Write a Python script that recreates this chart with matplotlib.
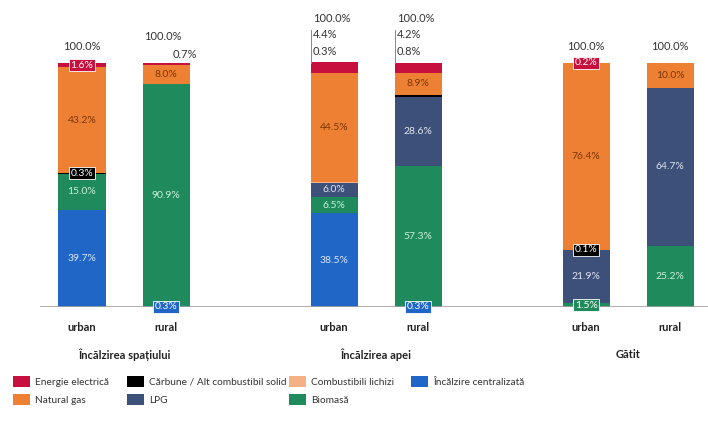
import matplotlib.pyplot as plt
import numpy as np
from matplotlib.patches import Patch

plt.rcParams['font.family'] = ['Lato', 'DejaVu Sans']

# bars: (group, area)
groups = ["Încălzirea spațiului", "Încălzirea apei", "Gătit"]
areas = ["urban", "rural", "urban", "rural", "urban", "rural"]

# stacked bottom -> top
central = [39.7, 0.3, 38.5, 0.3, 0.0, 0.0]
biomass = [15.0, 90.9, 6.5, 57.3, 1.5, 25.2]
lpg = [0.0, 0.0, 6.0, 28.6, 21.9, 64.7]
coal = [0.3, 0.1, 0.0, 0.8, 0.1, 0.0]
liquid = [0.0, 0.0, 0.3, 0.0, 0.0, 0.0]
gas = [43.2, 8.0, 44.5, 8.9, 76.4, 10.0]
electric = [1.6, 0.7, 4.4, 4.2, 0.2, 0.0]
totals = [100.0, 100.0, 100.0, 100.0, 100.0, 100.0]

series = [
    ("Încălzire centralizată", central, "#1f66c6", "#dbe8f7"),
    ("Biomasă", biomass, "#1f8a5c", "#c9f0d8"),
    ("LPG", lpg, "#3c5079", "#dfe4ee"),
    ("Cărbune / Alt combustibil solid", coal, "#000000", "white"),
    ("Combustibili lichizi", liquid, "#f4b183", "#6b3000"),
    ("Natural gas", gas, "#ee8034", "#7a3606"),
    ("Energie electrică", electric, "#c8103e", "white"),
]

x = np.array([0, 1, 3, 4, 6, 7])
w = 0.56

# labels drawn in a coloured box (bar index, series name)
boxed = {(0, "Energie electrică"), (0, "Cărbune / Alt combustibil solid"),
         (1, "Încălzire centralizată"), (3, "Încălzire centralizată"),
         (4, "Energie electrică"), (4, "Cărbune / Alt combustibil solid"),
         (4, "Biomasă")}

fig = plt.figure(figsize=(7.08, 4.21), dpi=100)
ax = fig.add_axes([40 / 708, 114 / 421, 668 / 708, 307 / 421])

bottom = np.zeros(len(x))
for name, vals, col, tcol in series:
    vals = np.array(vals)
    ax.bar(x, vals, w, bottom=bottom, color=col, edgecolor="none", zorder=2)
    for i in range(len(x)):
        v = vals[i]
        if v <= 0:
            continue
        yc = bottom[i] + v / 2
        if (i, name) in boxed:
            ax.text(x[i], yc, f"{v:.1f}%", ha="center", va="center", fontsize=7.5,
                    color="white", zorder=5, clip_on=False,
                    bbox=dict(boxstyle="square,pad=0.15", fc=col, ec="white", lw=0.6))
        elif v >= 5:
            ax.text(x[i], yc, f"{v:.1f}%", ha="center", va="center", fontsize=7.5,
                    color=tcol, zorder=4)
    bottom += vals

tc = "#333333"
# totals and small top values
ax.text(x[0], 106.6, f"{totals[0]:.1f}%", ha="center", va="center", fontsize=8, color=tc)
ax.text(x[1] - 0.04, 110.7, f"{totals[1]:.1f}%", ha="center", va="center", fontsize=8, color=tc)
ax.text(x[1] + w / 2 + 0.09, 103.4, f"{electric[1]:.1f}%", ha="right", va="center", fontsize=8, color=tc)
for i, top2 in [(2, liquid[2]), (3, coal[3])]:
    lx = x[i] - w / 2 + 0.01
    ax.plot([lx, lx], [100, 113.6], color="#888888", lw=0.7, zorder=3, clip_on=False)
    ax.text(lx + 0.02, 118.4, f"{totals[i]:.1f}%", ha="left", va="center", fontsize=8, color=tc)
    ax.text(lx + 0.02, 111.5, f"{electric[i]:.1f}%", ha="left", va="center", fontsize=8, color=tc)
    ax.text(lx + 0.02, 104.5, f"{top2:.1f}%", ha="left", va="center", fontsize=8, color=tc)
ax.text(x[4], 106.6, f"{totals[4]:.1f}%", ha="center", va="center", fontsize=8, color=tc)
ax.text(x[5], 106.6, f"{totals[5]:.1f}%", ha="center", va="center", fontsize=8, color=tc)

ax.axhline(0, color="#a0a0a0", lw=1.2, zorder=3)
ax.set_xlim(-0.5, 7.45)
ax.set_ylim(0, 125.8)
ax.set_xticks(x)
ax.set_xticklabels(areas, fontsize=8, fontweight="bold", color="#222222")
ax.tick_params(axis="x", length=0, pad=11)
ax.set_yticks([])
for s in ax.spines.values():
    s.set_visible(False)

for g, name in enumerate(groups):
    ax.text((x[2 * g] + x[2 * g + 1]) / 2, -19.5, name, ha="center", va="center",
            fontsize=8, fontweight="bold", color="#222222")

# legend, one column at a time
legend_cols = [["Energie electrică", "Natural gas"],
               ["Cărbune / Alt combustibil solid", "LPG"],
               ["Combustibili lichizi", "Biomasă"],
               ["Încălzire centralizată"]]
col_x = [13, 127, 289, 411]
cmap = {s[0]: s[2] for s in series}
for names, px in zip(legend_cols, col_x):
    handles = [Patch(facecolor=cmap[n], label=n) for n in names]
    leg = fig.legend(handles=handles, loc="upper left", bbox_to_anchor=(px / 708, 1 - 376 / 421),
                     frameon=False, fontsize=7.3, handlelength=1.7, handleheight=1.25,
                     handletextpad=0.45, labelspacing=0.75, borderpad=0, borderaxespad=0)
    for t in leg.get_texts():
        t.set_color("#333333")

plt.savefig("out.png", dpi=100)
